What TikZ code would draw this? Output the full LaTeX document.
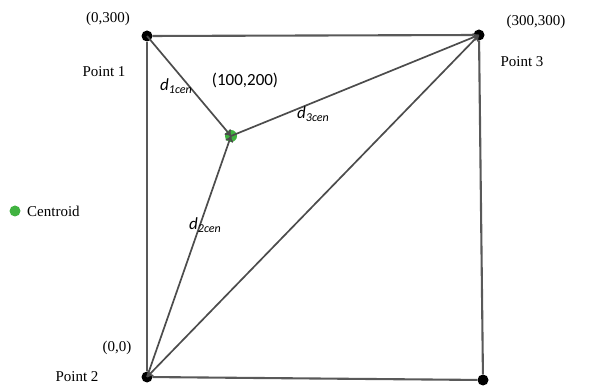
\documentclass[tikz,border=0pt]{standalone}
\usepackage{fontspec}
\setmainfont{Liberation Serif}
\newfontfamily\calibri{Carlito}
\usetikzlibrary{positioning, arrows.meta}

\begin{document}
\begin{tikzpicture}[
        x=1pt, y=-1pt,
        every node/.style={align=center, font=\fontsize{15}{17}\selectfont},
        corner/.style={circle, fill=black, inner sep=0pt, minimum size=11pt},
        cendot/.style={circle, fill=green!60!black!75, inner sep=0pt, minimum size=12pt},
        edge/.style={draw=black!65, line width=2.1pt},
        dist/.style={draw=black!70, line width=1.7pt, -{To[length=6pt,width=8pt]}},
        dlabel/.style={font=\calibri\fontsize{17}{19}\selectfont}
    ]
    \useasboundingbox (0,0) rectangle (597,387);

    % Corner points
    \node[corner] (p1) at (147,36) {};
    \node[corner] (p3) at (479,35) {};
    \node[corner] (p2) at (147,377) {};
    \node[corner] (p4) at (483,380) {};

    % Centroid
    \node[cendot] (cen) at (231,136) {};

    % Square
    \draw[edge] (p1) -- (p3);
    \draw[edge] (p3) -- (p4);
    \draw[edge] (p4) -- (p2);
    \draw[edge] (p2) -- (p1);

    % Distances
    \draw[dist] (p1.center) -- (cen.center);
    \draw[dist] (p2.center) -- (cen.center);
    \draw[dist] (cen.center) -- (p3.center);
    \draw[dist, {To[length=6pt,width=8pt]}-{To[length=6pt,width=8pt]}] (p2.center) -- (p3.center);

    % Labels
    \node at (108,19) {(0,300)};
    \node at (104,72) {Point 1};
    \node at (117,348) {(0,0)};
    \node at (77,377) {Point 2};
    \node at (536,22) {(300,300)};
    \node at (522,62) {Point 3};
    \node[dlabel] at (245,80) {(100,200)};
    \node[dlabel] at (176,86) {\textit{d\fontsize{12}{14}\selectfont\raisebox{-3pt}{1cen}}};
    \node[dlabel] at (313,114) {\textit{d\fontsize{12}{14}\selectfont\raisebox{-3pt}{3cen}}};
    \node[dlabel] at (205,225) {\textit{d\fontsize{12}{14}\selectfont\raisebox{-3pt}{2cen}}};

    % Legend
    \node[cendot, minimum size=11pt] (leg) at (15,211) {};
    \node[right=3pt of leg] (legtext) {Centroid};

\end{tikzpicture}
\end{document}
